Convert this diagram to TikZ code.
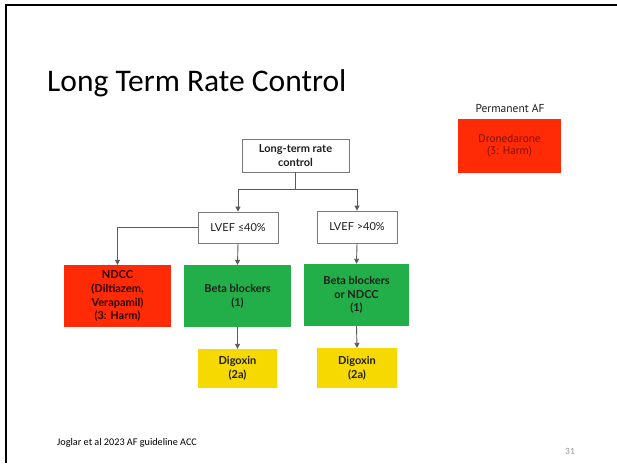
\documentclass[tikz,border=0pt]{standalone}
\usepackage{fontspec}
\setmainfont{Carlito}
\newfontfamily\chartfont{Lato}
\newfontfamily\notefont{PT Sans}
\usetikzlibrary{arrows.meta}

\definecolor{harmred}{HTML}{FF2A06}
\definecolor{recgreen}{HTML}{22AE48}
\definecolor{recyellow}{HTML}{F6D900}
\definecolor{wireGray}{HTML}{5A5A5A}
\definecolor{boxInk}{HTML}{1E1E1E}
\definecolor{harmInk}{HTML}{7E1206}

\tikzset{
  plainbox/.style={draw=wireGray!80, line width=0.8pt, fill=white, align=center,
    inner sep=0pt, font=\chartfont\bfseries\fontsize{11}{14}\selectfont, text=boxInk},
  lvefbox/.style={plainbox, font=\chartfont\fontsize{11}{14}\selectfont},
  colorbox/.style={draw=none, align=center, inner sep=0pt,
    font=\chartfont\bfseries\fontsize{11}{13.7}\selectfont, text=boxInk},
  wire/.style={draw=wireGray, line width=0.9pt},
  arr/.style={wire, -{Triangle[length=5pt,width=5pt]}},
}

\begin{document}
\begin{tikzpicture}[x=1pt,y=-1pt]
  \useasboundingbox (0,0) rectangle (617,463);
  \fill[white] (0,0) rectangle (617,463);

  % slide frame
  \draw[line width=2pt, black] (5.5,463) -- (5.5,4.5) -- (617,4.5);

  % title and footer
  \node[anchor=base west, inner sep=0pt, font=\fontsize{31.5}{36}\selectfont] (title)
    at (47,91) {Long Term Rate Control};
  \node[anchor=base west, inner sep=0pt, font=\fontsize{10.2}{12}\selectfont] (foot)
    at (57,445) {Joglar et al 2023 AF guideline ACC};
  \node[anchor=base, inner sep=0pt, text=gray!80, font=\fontsize{9.5}{11}\selectfont] (pageno)
    at (570,454) {31};

  % permanent AF note
  \node[inner sep=0pt, font=\notefont\fontsize{11.5}{13}\selectfont, text=boxInk] (permlabel)
    at (510,108) {Permanent AF};
  \node[fill=harmred, minimum width=103pt, minimum height=54pt, inner sep=0pt, align=center,
    font=\notefont\fontsize{11.2}{12.5}\selectfont, text=harmInk] (drone)
    at (509.5,146) {Dronedarone\\(3: Harm)};

  % decision tree
  \node[plainbox, minimum width=107pt, minimum height=33pt] (ltrc) at (295.5,155.5)
    {Long-term rate\\control};
  \node[lvefbox, minimum width=80pt, minimum height=31pt] (lvefA) at (238,227.5) {LVEF ≤40\%};
  \node[lvefbox, minimum width=80pt, minimum height=32pt] (lvefB) at (357,227) {LVEF >40\%};

  \node[colorbox, fill=harmred, minimum width=107pt, minimum height=62pt, text=black!85!harmred]
    (ndcc) at (117.5,296) {NDCC\\(Diltiazem,\\Verapamil)\\(3: Harm)};
  \node[colorbox, fill=recgreen, minimum width=107pt, minimum height=62pt]
    (bbA) at (237.5,296) {Beta blockers\\(1)};
  \node[colorbox, fill=recgreen, minimum width=105pt, minimum height=62pt]
    (bbB) at (356.5,295) {Beta blockers\\or NDCC\\(1)};

  \node[colorbox, fill=recyellow, minimum width=79pt, minimum height=39pt]
    (digA) at (237.5,368.5) {Digoxin\\(2a)};
  \node[colorbox, fill=recyellow, minimum width=80pt, minimum height=40pt]
    (digB) at (357,368) {Digoxin\\(2a)};

  % connectors
  \coordinate (split) at (295.5,189);
  \draw[wire] (ltrc.south) -- (split);
  \draw[arr] (split) -| (lvefA.north);
  \draw[arr] (split) -| (lvefB.north);
  \draw[arr] (lvefA.west) -| (ndcc.north);
  \draw[arr] (lvefA.south) -- (bbA.north);
  \draw[arr] (lvefB.south) -- (bbB.north);
  \draw[arr] (bbA.south) -- (digA.north);
  \draw[arr] (bbB.south) -- (digB.north);
\end{tikzpicture}
\end{document}
